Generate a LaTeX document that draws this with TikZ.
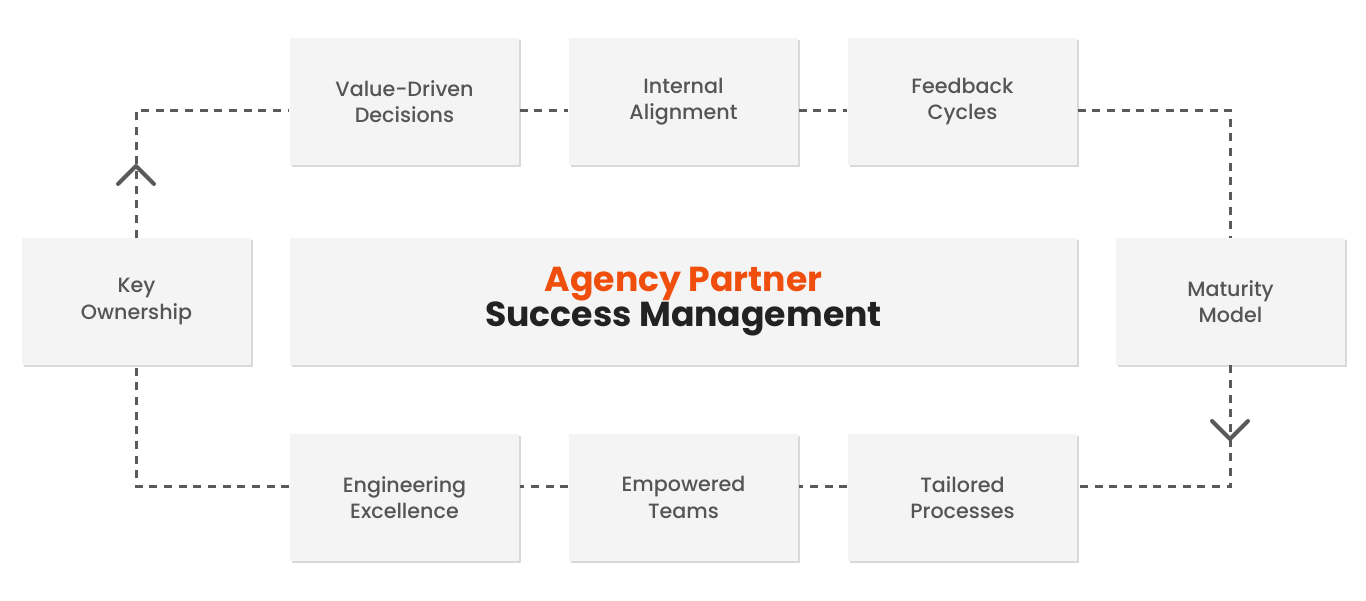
\documentclass[tikz,border=0pt]{standalone}
\usepackage{fontspec}
\setmainfont{Poppins}[FontFace={sb}{n}{Poppins Medium}]
\usetikzlibrary{shadows}
\definecolor{boxfill}{HTML}{F4F4F4}
\definecolor{labelgray}{HTML}{555555}
\definecolor{linegray}{HTML}{5A5A5A}
\definecolor{agencyorange}{HTML}{F04E0C}
\definecolor{titledark}{HTML}{222222}
\tikzset{every picture/.style={line width=0.75pt}}
\tikzset{
  stagebox/.style={fill=boxfill, minimum width=172pt, minimum height=95pt, inner sep=0pt,
    align=center, text=labelgray, font=\fontsize{15.5}{20}\fontseries{sb}\selectfont,
    drop shadow={shadow xshift=1.5pt, shadow yshift=-1.5pt, opacity=0.25, fill=black!60}},
  loopline/.style={draw=linegray, line width=2.25pt, dash pattern=on 6pt off 5pt},
  chevron/.style={draw=linegray, line width=3pt, line cap=round, line join=round},
}
\begin{document}
\begin{tikzpicture}[x=0.75pt,y=0.75pt,yscale=-1,xscale=1]
\useasboundingbox (0,0) rectangle (1366,600);

% top row
\node[stagebox] (vdd) at (404.5,101.5) {Value-Driven\\Decisions};
\node[stagebox] (ia) at (683.5,101.5) {Internal\\Alignment};
\node[stagebox] (fc) at (962.5,101.5) {Feedback\\Cycles};
% middle row
\node[stagebox] (ko) at (136.5,301.5) {Key\\Ownership};
\node[stagebox, minimum width=590pt] (apsm) at (683.5,301.5)
  {\fontsize{26}{33}\selectfont\bfseries\textcolor{agencyorange}{Agency Partner}\\
   \fontsize{26}{33}\selectfont\bfseries\textcolor{titledark}{Success Management}};
\node[stagebox] (mm) at (1230.5,301.5) {Maturity\\Model};
% bottom row
\node[stagebox] (ee) at (404.5,497.5) {Engineering\\Excellence};
\node[stagebox] (et) at (683.5,497.5) {Empowered\\Teams};
\node[stagebox] (tp) at (962.5,497.5) {Tailored\\Processes};

% loop corners
\coordinate (vddw) at ([yshift=6.4pt]vdd.west);
\coordinate (vdde) at ([yshift=6.4pt]vdd.east);
\coordinate (iaw) at ([yshift=6.4pt]ia.west);
\coordinate (iae) at ([yshift=6.4pt]ia.east);
\coordinate (fcw) at ([yshift=6.4pt]fc.west);
\coordinate (fce) at ([yshift=6.4pt]fc.east);
\coordinate (tpe) at ([yshift=-7.9pt]tp.east);
\coordinate (tpw) at ([yshift=-7.9pt]tp.west);
\coordinate (ete) at ([yshift=-7.9pt]et.east);
\coordinate (etw) at ([yshift=-7.9pt]et.west);
\coordinate (eee) at ([yshift=-7.9pt]ee.east);
\coordinate (eew) at ([yshift=-7.9pt]ee.west);

% dashed loop
\draw[loopline] (ko.north) -- (ko.north |- vddw) -- (vddw);
\draw[loopline] (vdde) -- (iaw);
\draw[loopline] (iae) -- (fcw);
\draw[loopline] (fce) -- (fce -| mm.north) -- (mm.north);
\draw[loopline] (mm.south) -- (mm.south |- tpe) -- (tpe);
\draw[loopline] (tpw) -- (ete);
\draw[loopline] (etw) -- (eee);
\draw[loopline] (eew) -- (eew -| ko.south) -- (ko.south);

% chevrons
\draw[chevron] (118,184) -- (136,166) -- (154,184);
\draw[chevron] (1212,421) -- (1230,439) -- (1248,421);
\end{tikzpicture}
\end{document}
